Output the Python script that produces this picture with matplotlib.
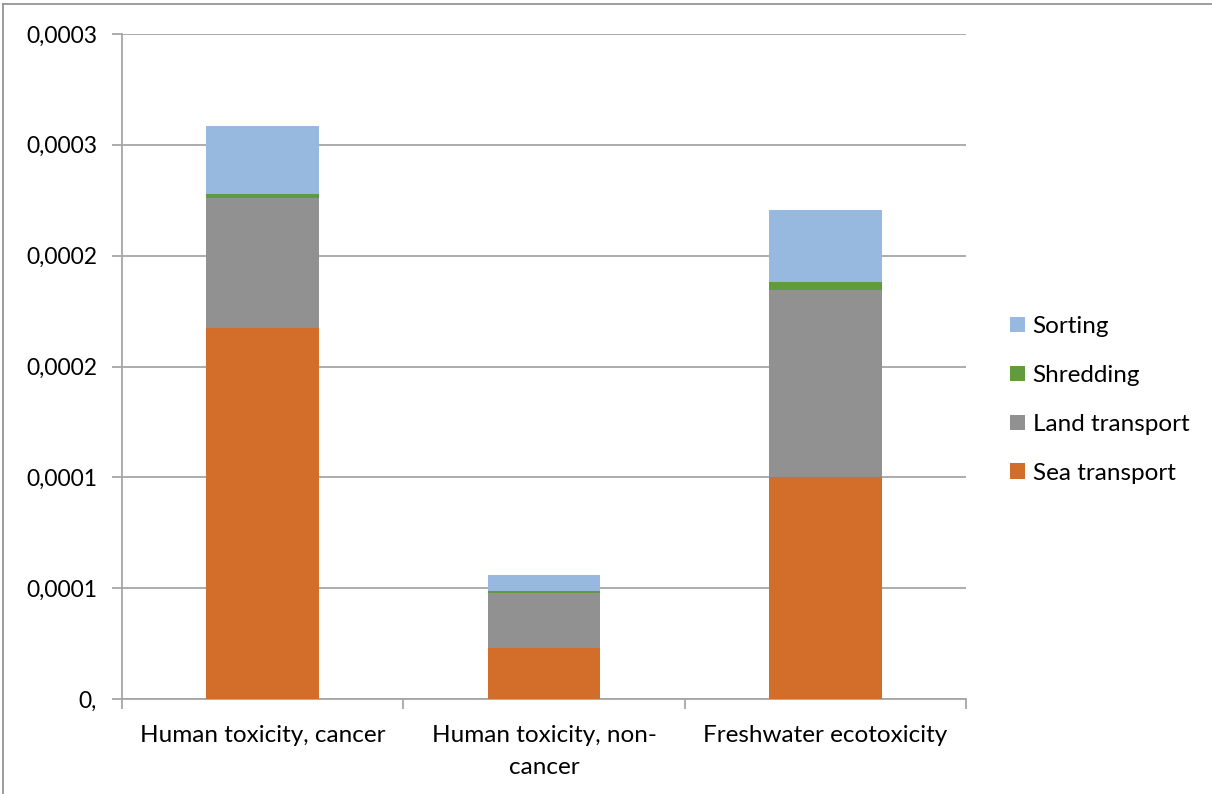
import matplotlib.pyplot as plt
from matplotlib.lines import Line2D
import numpy as np

plt.rcParams['font.family'] = ['Lato', 'DejaVu Sans']

categories = ["Human toxicity, cancer", "Human toxicity, non-\ncancer", "Freshwater ecotoxicity"]
sea = [0.0001674, 0.0000231, 0.0001002]
land = [0.0000585, 0.0000247, 0.0000844]
shred = [0.0000019, 0.0000011, 0.0000033]
sort = [0.0000307, 0.0000070, 0.0000328]
ytick_vals = [0, 0.00005, 0.0001, 0.00015, 0.0002, 0.00025, 0.0003]
ytick_labels = ["0,", "0,0001", "0,0001", "0,0002", "0,0002", "0,0003", "0,0003"]

colors = {"Sea transport": "#D36E2A", "Land transport": "#919191",
          "Shredding": "#629B3E", "Sorting": "#97B9E0"}

fig = plt.figure(figsize=(12.12, 7.94), dpi=100)
ax = fig.add_axes([122/1212, 1-699/794, 844/1212, 665/794])

x = np.arange(len(categories))
w = 0.4
bottom = np.zeros(len(categories))
handles = []
for name, vals in [("Sea transport", sea), ("Land transport", land),
                   ("Shredding", shred), ("Sorting", sort)]:
    b = ax.bar(x, vals, w, bottom=bottom, color=colors[name], label=name,
               zorder=3, linewidth=0)
    bottom += np.array(vals)
    handles.append(b)

ax.set_xlim(-0.5, 2.5)
ax.set_ylim(0, 0.0003)
ax.set_yticks(ytick_vals)
ax.set_yticklabels(ytick_labels, fontsize=16.5)
ax.set_xticks(x)
ax.set_xticklabels(categories, fontsize=17.5, linespacing=1.6)
ax.tick_params(axis='x', length=0, pad=19)
ax.tick_params(axis='y', length=7, color='#A6A6A6', width=1.3, pad=11)
ax.set_xticks([-0.5, 0.5, 1.5, 2.5], minor=True)
ax.tick_params(axis='x', which='minor', length=7, color='#A6A6A6', width=1.3)
ax.grid(axis='y', color='#A6A6A6', linewidth=1.3, zorder=0)
for s in ['top', 'right']:
    ax.spines[s].set_visible(False)
for s in ['left', 'bottom']:
    ax.spines[s].set_color('#A6A6A6')
    ax.spines[s].set_linewidth(1.3)

ax.legend(handles[::-1], [h.get_label() for h in handles[::-1]],
          loc='center left', bbox_to_anchor=(998/1212, 1-400/794),
          bbox_transform=fig.transFigure, frameon=False, borderpad=0,
          fontsize=17.5, handlelength=0.62, handleheight=0.62,
          handletextpad=0.3, labelspacing=1.15)

# outer chart frame
fig.add_artist(Line2D([3/1212, 1], [1-4/794, 1-4/794], color='#8C8C8C', linewidth=1.2))
fig.add_artist(Line2D([3/1212, 3/1212], [0, 1-4/794], color='#8C8C8C', linewidth=1.2))

fig.savefig("out.png", dpi=100)
